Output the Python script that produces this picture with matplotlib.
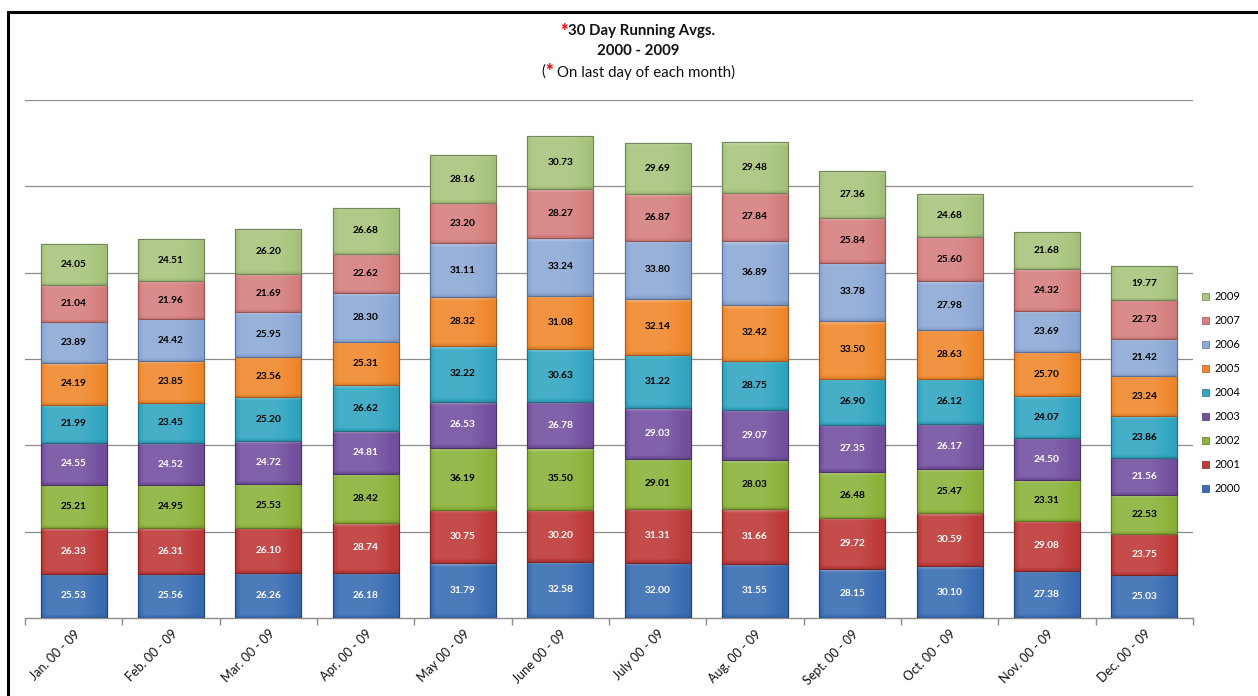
import matplotlib
matplotlib.use("Agg")
import matplotlib.pyplot as plt
from matplotlib.lines import Line2D
from matplotlib.patches import Patch
from matplotlib.colors import to_rgb
import numpy as np

plt.rcParams['font.family'] = ['Lato', 'DejaVu Sans']

months = ["Jan. 00 - 09", "Feb. 00 - 09", "Mar. 00 - 09", "Apr. 00 - 09",
          "May 00 - 09", "June 00 - 09", "July 00 - 09", "Aug. 00 - 09",
          "Sept. 00 - 09", "Oct. 00 - 09", "Nov. 00 - 09", "Dec. 00 - 09"]

years = ["2000", "2001", "2002", "2003", "2004", "2005", "2006", "2007", "2009"]

y2000 = [25.53, 25.56, 26.26, 26.18, 31.79, 32.58, 32.00, 31.55, 28.15, 30.10, 27.38, 25.03]
y2001 = [26.33, 26.31, 26.10, 28.74, 30.75, 30.20, 31.31, 31.66, 29.72, 30.59, 29.08, 23.75]
y2002 = [25.21, 24.95, 25.53, 28.42, 36.19, 35.50, 29.01, 28.03, 26.48, 25.47, 23.31, 22.53]
y2003 = [24.55, 24.52, 24.72, 24.81, 26.53, 26.78, 29.03, 29.07, 27.35, 26.17, 24.50, 21.56]
y2004 = [21.99, 23.45, 25.20, 26.62, 32.22, 30.63, 31.22, 28.75, 26.90, 26.12, 24.07, 23.86]
y2005 = [24.19, 23.85, 23.56, 25.31, 28.32, 31.08, 32.14, 32.42, 33.50, 28.63, 25.70, 23.24]
y2006 = [23.89, 24.42, 25.95, 28.30, 31.11, 33.24, 33.80, 36.89, 33.78, 27.98, 23.69, 21.42]
y2007 = [21.04, 21.96, 21.69, 22.62, 23.20, 28.27, 26.87, 27.84, 25.84, 25.60, 24.32, 22.73]
y2009 = [24.05, 24.51, 26.20, 26.68, 28.16, 30.73, 29.69, 29.48, 27.36, 24.68, 21.68, 19.77]

series = [y2000, y2001, y2002, y2003, y2004, y2005, y2006, y2007, y2009]
colors = ["#3A6DB3", "#BE3B3A", "#8DB33C", "#7451A0", "#33A6C2",
          "#F0892E", "#8DA9D6", "#D5807F", "#A9C57E"]
edge_colors = ["#23467A", "#7E2524", "#5E7A26", "#4B3369", "#21707F",
               "#A65A1C", "#5C7198", "#975453", "#71875A"]
label_colors = ["white", "white", "black", "white", "black",
                "black", "black", "black", "black"]

BAR_W = 0.68


def bevel_image(color, nrows=60, ncols=40):
    """Shaded RGB image giving a bar segment a soft bevelled look."""
    base = np.array(to_rgb(color))
    u = np.linspace(0, 1, ncols)
    # brighter left-centre, darker towards the right edge
    h = 1.06 - 0.10 * np.clip((u - 0.55) / 0.45, 0, 1) ** 1.5 \
        - 0.08 * np.clip((0.08 - u) / 0.08, 0, 1)
    v = np.linspace(0, 1, nrows)  # 0 = top row
    top = 1.0 + 0.22 * np.clip((0.06 - v) / 0.06, 0, 1)
    bot = 1.0 - 0.12 * np.clip((v - 0.93) / 0.07, 0, 1)
    fac = top[:, None] * bot[:, None] * h[None, :]
    img = base[None, None, :] * fac[:, :, None]
    lighten = np.clip(fac - 1.0, 0, None)[:, :, None]
    img = np.where(lighten > 0, base + (1 - base) * lighten * 1.6, img)
    return np.clip(img, 0, 1)


fig = plt.figure(figsize=(12.58, 6.96), dpi=100)
ax = fig.add_axes([25 / 1258, 1 - 618 / 696, (1193 - 25) / 1258, (618 - 100) / 696])

x = np.arange(len(months))
bottom = np.zeros(len(months))
handles = []
for vals, c, ec, lc, yr in zip(series, colors, edge_colors, label_colors, years):
    vals = np.array(vals)
    bars = ax.bar(x, vals, width=BAR_W, bottom=bottom, color=c,
                  edgecolor=ec, linewidth=0.8, zorder=3)
    img = bevel_image(c)
    for rect in bars:
        x0, y0 = rect.get_x(), rect.get_y()
        im = ax.imshow(img, extent=(x0, x0 + rect.get_width(), y0, y0 + rect.get_height()),
                       aspect="auto", interpolation="bilinear", zorder=3.1)
        im.set_clip_path(rect)
        edge = plt.Rectangle((x0, y0), rect.get_width(), rect.get_height(),
                             fill=False, edgecolor=ec, linewidth=0.8, zorder=3.2)
        ax.add_patch(edge)
    for xi, b, v in zip(x, bottom, vals):
        ax.text(xi, b + v / 2, f"{v:.2f}", ha="center", va="center",
                fontsize=7.3, fontweight="bold", color=lc, zorder=4)
    bottom = bottom + vals
    handles.append(Patch(facecolor=c, edgecolor=ec, linewidth=0.5, label=yr))

ax.set_xlim(-0.5, len(months) - 0.5)
ax.set_ylim(0, 300)
ax.set_yticks(np.arange(50, 301, 50))
ax.yaxis.grid(True, color="#8C8C8C", linewidth=0.9, zorder=0)
ax.tick_params(axis="y", left=False, labelleft=False)
for side in ("left", "right", "top"):
    ax.spines[side].set_visible(False)
ax.spines["bottom"].set_color("#8C8C8C")
ax.spines["bottom"].set_linewidth(1.0)

ax.set_xticks(x)
ax.set_xticklabels(months, rotation=45, ha="right", rotation_mode="anchor",
                   fontsize=9, color="#111111")
ax.tick_params(axis="x", which="major", length=0, pad=7)
ax.set_xticks(np.arange(-0.5, len(months), 1.0), minor=True)
ax.tick_params(axis="x", which="minor", length=5, color="#8C8C8C", width=1.0)

fig.legend(handles=handles[::-1], loc="upper left",
           bbox_to_anchor=(1198 / 1258, 1 - 287 / 696),
           frameon=False, fontsize=8, handlelength=0.6, handleheight=0.6,
           handletextpad=0.5, labelspacing=1.17, borderaxespad=0)

# Title block: each line is laid out from pieces so the asterisks can be red
fig.canvas.draw()
renderer = fig.canvas.get_renderer()
W = fig.bbox.width
cx = 0.507 * W
TITLE_FS = 10.8


def text_width(s, weight, size):
    t = fig.text(0, 0, s, fontsize=size, fontweight=weight)
    w = t.get_window_extent(renderer).width
    t.remove()
    return w


def title_line(pieces, ypix):
    widths = [text_width(s, wgt, fs) for s, wgt, _, fs in pieces]
    xpos = cx - sum(widths) / 2
    for (s, wgt, col, fs), w in zip(pieces, widths):
        fig.text(xpos / W, 1 - ypix / 696, s, ha="left", va="center",
                 fontsize=fs, fontweight=wgt, color=col)
        xpos += w


title_line([("*", "heavy", "#E8141B", 13),
            ("30 Day Running Avgs.", "bold", "#111111", TITLE_FS)], 31)
title_line([("2000 - 2009", "bold", "#111111", TITLE_FS)], 51)
title_line([("(", "normal", "#111111", TITLE_FS), ("*", "heavy", "#E8141B", 13),
            (" On last day of each month)", "normal", "#111111", TITLE_FS)], 72)

# Outer frame (top and left edges)
fig.add_artist(Line2D([8 / 1258, 1.0], [1 - 12 / 696, 1 - 12 / 696],
                      transform=fig.transFigure, color="black", linewidth=2.2))
fig.add_artist(Line2D([8 / 1258, 8 / 1258], [0, 1 - 12 / 696],
                      transform=fig.transFigure, color="black", linewidth=2.2))

fig.savefig("out.png", dpi=100)
